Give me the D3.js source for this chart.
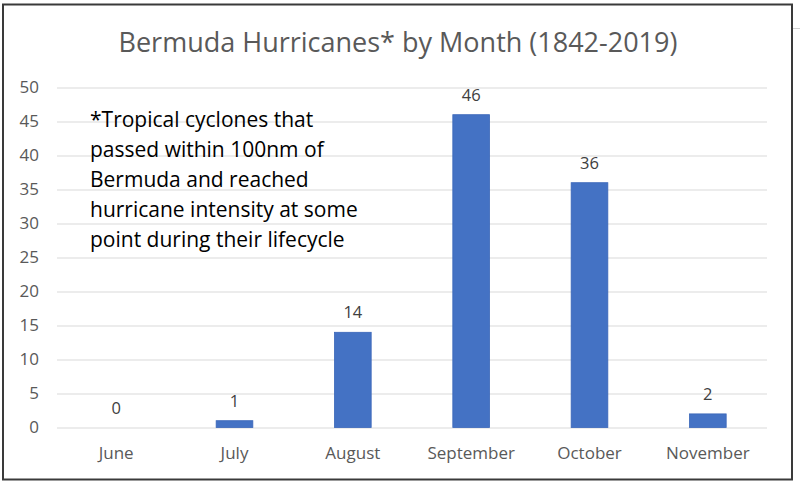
<!DOCTYPE html>
<html>
<head>
<meta charset="utf-8">
<script src="https://cdn.jsdelivr.net/npm/d3@7"></script>
<style>
  body { margin: 0; background: #fff; }
  svg { display: block; font-family: "Open Sans", Lato, sans-serif; }
</style>
</head>
<body>
<div class="bar-chart"></div>
<script>
const months = ["June", "July", "August", "September", "October", "November"]
const hurricanes = [0, 1, 14, 46, 36, 2]
const yTicks = [0, 5, 10, 15, 20, 25, 30, 35, 40, 45, 50]
const titleText = "Bermuda Hurricanes* by Month (1842-2019)"
const noteLines = [
    "*Tropical cyclones that",
    "passed within 100nm of",
    "Bermuda and reached",
    "hurricane intensity at some",
    "point during their lifecycle"
]

const width = 800, height = 489
const margin = {top: 87.5, right: 33, bottom: 61.5, left: 57}
const innerW = width - margin.left - margin.right
const innerH = height - margin.top - margin.bottom

const svg = d3.select(".bar-chart")
    .append("svg")
        .attr("width", width)
        .attr("height", height)

// chart frame
svg.append("rect")
    .attr("x", 3).attr("y", 4.5)
    .attr("width", 789).attr("height", 475)
    .attr("fill", "#fff")
    .attr("stroke", "#3a3a3a")
    .attr("stroke-width", 2)

svg.append("line")
    .attr("x1", 793).attr("x2", 800)
    .attr("y1", 28.5).attr("y2", 28.5)
    .attr("stroke", "#d0d0d0")

svg.append("text")
    .attr("x", 398)
    .attr("y", 52)
    .attr("text-anchor", "middle")
    .attr("fill", "#595959")
    .style("font-size", "27px")
    .text(titleText)

const g = svg.append("g")
    .attr("transform", "translate(" + margin.left + "," + margin.top + ")")

let x = d3.scaleBand()
    .domain(months)
    .range([0, innerW])
    .paddingInner(0.69)
    .paddingOuter(0.345)

let y = d3.scaleLinear()
    .domain([0, 50])
    .range([innerH, 0])

// gridlines
g.append("g")
    .call(d3.axisLeft(y).tickValues(yTicks).tickSize(-innerW).tickFormat(""))
    .call(a => a.select(".domain").remove())
    .call(a => a.selectAll("line").attr("stroke", "#d9d9d9").attr("stroke-width", 1.2))

// y labels
g.append("g")
    .attr("transform", "translate(-18,0)")
    .call(d3.axisLeft(y).tickValues(yTicks).tickSize(0).tickPadding(0))
    .call(a => a.select(".domain").remove())
    .call(a => a.selectAll("text")
        .attr("fill", "#595959")
        .style("font-size", "17px")
        .style("font-family", "'Open Sans', sans-serif"))

// x labels
g.append("g")
    .attr("transform", "translate(0," + innerH + ")")
    .call(d3.axisBottom(x).tickSize(0).tickPadding(19))
    .call(a => a.select(".domain").remove())
    .call(a => a.selectAll("text")
        .attr("fill", "#595959")
        .style("font-size", "17px")
        .style("font-family", "'Open Sans', sans-serif"))

const rows = months.map((m, i) => ({month: m, value: hurricanes[i]}))

g.selectAll("rect.bar")
    .data(rows)
    .enter()
    .append("rect")
        .attr("class", "bar")
        .attr("x", d => x(d.month))
        .attr("y", d => y(d.value))
        .attr("width", x.bandwidth())
        .attr("height", d => innerH - y(d.value))
        .attr("fill", "#4472c4")
        .attr("stroke", "#3a66b8")
        .attr("stroke-width", 0.8)

g.selectAll("text.val")
    .data(rows)
    .enter()
    .append("text")
        .attr("class", "val")
        .attr("x", d => x(d.month) + x.bandwidth() / 2)
        .attr("y", d => y(d.value) - 14)
        .attr("text-anchor", "middle")
        .attr("fill", "#404040")
        .style("font-size", "16.5px")
        .text(d => d.value)

const note = svg.append("text")
    .attr("x", 90)
    .attr("y", 127)
    .attr("fill", "#000")
    .style("font-size", "21px")

note.selectAll("tspan")
    .data(noteLines)
    .enter()
    .append("tspan")
        .attr("x", 90)
        .attr("dy", (d, i) => i === 0 ? 0 : 30)
        .text(d => d)
</script>
</body>
</html>
